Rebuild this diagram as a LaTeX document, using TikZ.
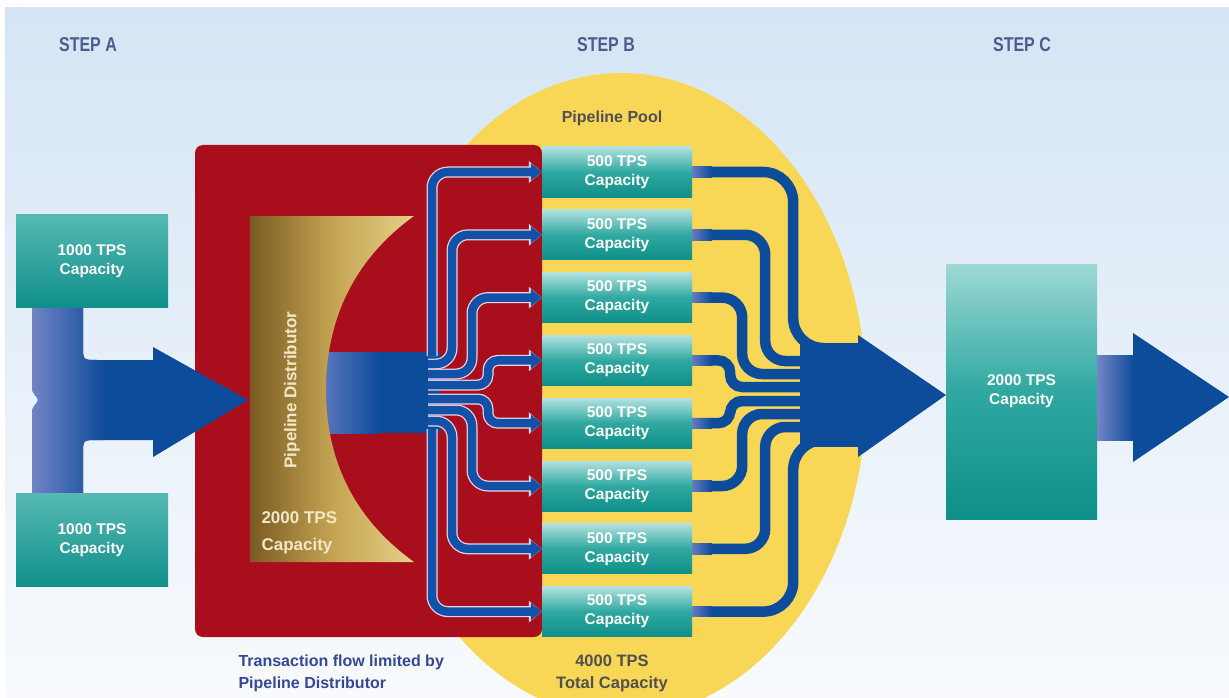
\documentclass[tikz,border=0pt]{standalone}
\usepackage{fontspec}
\setmainfont{Liberation Sans}
\newfontfamily\stepfont{Liberation Sans}[FakeStretch=0.8]
\usetikzlibrary{arrows.meta}

\definecolor{bgtop}{HTML}{D5E5F5}
\definecolor{bgbot}{HTML}{F8FAFD}
\definecolor{steptext}{HTML}{4B5C8E}
\definecolor{pool}{HTML}{F9D756}
\definecolor{distred}{HTML}{A90E1C}
\definecolor{golddark}{HTML}{7A5A22}
\definecolor{goldmid}{HTML}{C4A452}
\definecolor{goldlight}{HTML}{E6D088}
\definecolor{goldtext}{HTML}{F2E8C8}
\definecolor{dblue}{HTML}{0D4B9B}
\definecolor{lblue}{HTML}{7485C6}
\definecolor{tubeblue}{HTML}{1151A8}
\definecolor{tubeedge}{HTML}{EBD3E3}
\definecolor{tealtop}{HTML}{B2E1DF}
\definecolor{tealmid}{HTML}{2FA8A1}
\definecolor{tealbot}{HTML}{0F8F89}
\definecolor{poolgray}{HTML}{505050}
\definecolor{notetext}{HTML}{34489A}

\def\teepath{(32,308) -- (83,308) -- (83,346) .. controls (83,360) .. (97,360) -- (153,360)
  -- (153,347) -- (248,400) -- (153,457) -- (153,440) -- (97,440) .. controls (83,440) .. (83,454)
  -- (83,493) -- (32,493) -- (32,413) .. controls (32,405) and (38,404) .. (38,400)
  .. controls (38,396) and (32,395) .. (32,387) -- cycle}

\begin{document}
\begin{tikzpicture}[x=1pt,y=-1pt]
  \tikzstyle{steplabel}=[text=steptext, font=\stepfont\bfseries\fontsize{20}{22}\selectfont]
  \tikzstyle{pbox}=[rectangle, minimum width=150pt, minimum height=50pt, inner sep=0pt, top color=tealtop, bottom color=tealbot, middle color=tealmid, text=white, align=center, font=\bfseries\fontsize{15.5}{19}\selectfont]
  \tikzstyle{abox}=[rectangle, minimum width=152pt, minimum height=93pt, inner sep=0pt, top color=tealmid!70!tealtop, bottom color=tealbot, text=white, align=center, font=\bfseries\fontsize{15.5}{19}\selectfont]
  \tikzstyle{tubeline}=[draw=tubeedge, line width=11pt, rounded corners=16pt, -{Triangle[length=13pt,width=21pt]}]
  \tikzstyle{tube}=[draw=tubeblue, line width=8.5pt, rounded corners=16pt, -{Triangle[length=11pt,width=17pt]}]
  \tikzstyle{otube}=[draw=dblue, line width=10.5pt, rounded corners=20pt]
  \tikzstyle{ofade}=[left color=lblue!85!dblue, right color=dblue]

  \useasboundingbox (0,0) rectangle (1229,698);
  \clip (0,0) rectangle (1229,698);
  \shade[top color=bgtop, bottom color=bgbot] (5,8) rectangle (1229,698);

  % step labels
  \node[steplabel] (stepa) at (88,45) {STEP A};
  \node[steplabel] (stepb) at (606,45) {STEP B};
  \node[steplabel] (stepc) at (1022,45) {STEP C};

  % pool and distributor
  \fill[pool] (621,395) ellipse (245 and 322);
  \fill[distred, rounded corners=8pt] (195,145) rectangle (542,637);
  \fill[dblue] (378,352) rectangle (440,433);
  \shade[left color=lblue, right color=dblue] (305,352) rectangle (379,433);
  \shade[left color=golddark, right color=goldlight, middle color=goldmid]
    (250,216) -- (414,216) .. controls (350,262) and (326,325) .. (326,390)
    .. controls (326,455) and (350,516) .. (414,562) -- (250,562) -- cycle;
  \node[rotate=90, text=goldtext, font=\bfseries\fontsize{17}{20}\selectfont] (dist) at (292,390) {Pipeline Distributor};
  \node[anchor=west, align=left, text=goldtext, font=\bfseries\fontsize{17}{27}\selectfont] (dcap) at (258,533) {2000 TPS\\Capacity};

  % step A
  \fill[dblue] \teepath;
  \begin{scope}
    \clip \teepath;
    \shade[left color=lblue, right color=dblue] (30,300) rectangle (105,500);
  \end{scope}
  \node[abox] (a1) at (92,261) {1000 TPS\\Capacity};
  \node[abox] (a2) at (92,540) {1000 TPS\\Capacity};

  % pipelines
  \node[pbox] (p1) at (617,172) {500 TPS\\Capacity};
  \node[pbox] (p2) at (617,234.8) {500 TPS\\Capacity};
  \node[pbox] (p3) at (617,297.6) {500 TPS\\Capacity};
  \node[pbox] (p4) at (617,360.4) {500 TPS\\Capacity};
  \node[pbox] (p5) at (617,423.2) {500 TPS\\Capacity};
  \node[pbox] (p6) at (617,486) {500 TPS\\Capacity};
  \node[pbox] (p7) at (617,548.8) {500 TPS\\Capacity};
  \node[pbox] (p8) at (617,611.6) {500 TPS\\Capacity};

  \coordinate (t1) at (432,356);
  \coordinate (t2) at (428,364);
  \coordinate (t3) at (428,374);
  \coordinate (t4) at (428,385);
  \coordinate (t5) at (428,399);
  \coordinate (t6) at (428,410);
  \coordinate (t7) at (428,421);
  \coordinate (t8) at (432,429);

  \draw[tubeline] (t1) |- (p1.west); \draw[tube] (t1) |- (p1.west);
  \draw[tubeline] (t2) -- ++(24,0) |- (p2.west); \draw[tube] (t2) -- ++(24,0) |- (p2.west);
  \draw[tubeline] (t3) -- ++(44,0) |- (p3.west); \draw[tube] (t3) -- ++(44,0) |- (p3.west);
  \draw[tubeline, rounded corners=10pt] (t4) -- ++(60,0) |- (p4.west); \draw[tube, rounded corners=10pt] (t4) -- ++(60,0) |- (p4.west);
  \draw[tubeline, rounded corners=10pt] (t5) -- ++(60,0) |- (p5.west); \draw[tube, rounded corners=10pt] (t5) -- ++(60,0) |- (p5.west);
  \draw[tubeline] (t6) -- ++(44,0) |- (p6.west); \draw[tube] (t6) -- ++(44,0) |- (p6.west);
  \draw[tubeline] (t7) -- ++(24,0) |- (p7.west); \draw[tube] (t7) -- ++(24,0) |- (p7.west);
  \draw[tubeline] (t8) |- (p8.west); \draw[tube] (t8) |- (p8.west);

  % into step C
  \fill[dblue] (800,343) rectangle (862,447);
  \fill[dblue] (858,335) -- (946,395) -- (858,457) -- cycle;

  \coordinate (c1) at (815,348);
  \coordinate (c2) at (815,361);
  \coordinate (c3) at (815,374);
  \coordinate (c4) at (815,387);
  \coordinate (c5) at (815,401);
  \coordinate (c6) at (815,414);
  \coordinate (c7) at (815,427);
  \coordinate (c8) at (815,440);

  \draw[otube, rounded corners=30pt] (p1.east) -- ++(101,0) |- (c1);
  \draw[otube] (p2.east) -- ++(73,0) |- (c2);
  \draw[otube] (p3.east) -- ++(50,0) |- (c3);
  \draw[otube, rounded corners=12pt] (p4.east) -- ++(38,0) |- (c4);
  \draw[otube, rounded corners=12pt] (p5.east) -- ++(38,0) |- (c5);
  \draw[otube] (p6.east) -- ++(50,0) |- (c6);
  \draw[otube] (p7.east) -- ++(73,0) |- (c7);
  \draw[otube, rounded corners=30pt] (p8.east) -- ++(101,0) |- (c8);
  \shade[ofade] (692,166.8) rectangle (712,177.3);
  \shade[ofade] (692,229.6) rectangle (712,240.1);
  \shade[ofade] (692,292.4) rectangle (712,302.9);
  \shade[ofade] (692,355.2) rectangle (712,365.7);
  \shade[ofade] (692,418) rectangle (712,428.5);
  \shade[ofade] (692,480.8) rectangle (712,491.3);
  \shade[ofade] (692,543.6) rectangle (712,554.1);
  \shade[ofade] (692,606.4) rectangle (712,616.9);

  % step C
  \node[abox, minimum width=151pt, minimum height=255pt, top color=tealtop!85!tealmid, bottom color=tealbot, middle color=tealmid] (c) at (1021.5,391.5) {2000 TPS\\Capacity};
  \shade[left color=lblue, right color=dblue] (1097,355) rectangle (1134,440);
  \fill[dblue] (1133,333) -- (1229,397) -- (1133,462) -- cycle;

  % labels
  \node[text=poolgray, font=\bfseries\fontsize{16}{19}\selectfont] (pooltitle) at (612,118) {Pipeline Pool};
  \node[text=poolgray, align=center, font=\bfseries\fontsize{16.5}{22}\selectfont] (total) at (612,673) {4000 TPS\\Total Capacity};
  \node[anchor=west, text=notetext, align=left, font=\bfseries\fontsize{16}{22}\selectfont] (note) at (235,673) {Transaction flow limited by\\Pipeline Distributor};
\end{tikzpicture}
\end{document}
